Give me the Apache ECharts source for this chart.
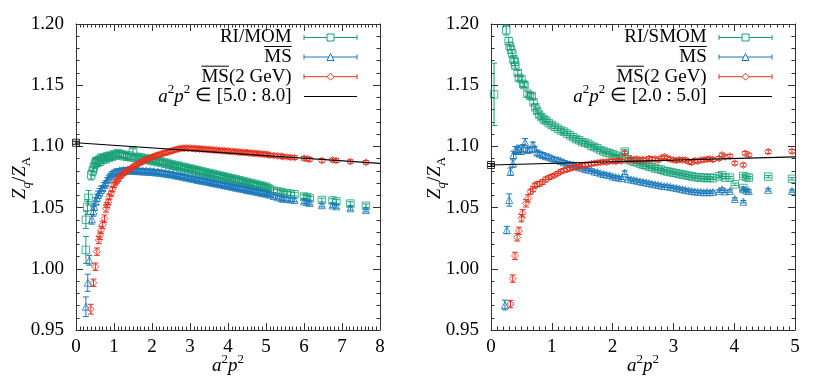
<!DOCTYPE html>
<html><head><meta charset="utf-8">
<script src="https://cdn.jsdelivr.net/npm/echarts@6/dist/echarts.min.js"></script>
<style>html,body{margin:0;padding:0;background:#fff}#c{width:830px;height:383px}</style>
</head><body><div id="c"></div>
<script>
// ---------- DATA: [a^2p^2, Z_q/Z_A, error] ----------
const L_MOM = [[0.26,1.0154,0.011],[0.26,1.040,0.007],[0.30,1.0505,0.006],[0.33,1.058,0.006],[0.40,1.0766,0.004],[0.44,1.080,0.004],[0.47,1.083,0.004],[0.50,1.086,0.004],[0.53,1.088,0.003],[0.56,1.0865,0.003],[0.60,1.089,0.003],[0.63,1.0875,0.003],[0.66,1.0905,0.003],[0.70,1.089,0.003],[0.74,1.091,0.002],[0.78,1.0895,0.002],[0.82,1.092,0.002],[0.86,1.0905,0.002],[0.90,1.0925,0.002],[0.95,1.0915,0.002],[1.00,1.0935,0.002],[1.05,1.0925,0.002],[1.10,1.0945,0.002],[1.15,1.093,0.002],[1.20,1.0935,0.002],[1.25,1.092,0.002],[1.30,1.093,0.002],[1.35,1.0915,0.002],[1.40,1.0925,0.002],[1.45,1.091,0.002],[1.50,1.0960,0.002],[1.55,1.0905,0.0015],[1.60,1.0915,0.0015],[1.65,1.090,0.0015],[1.70,1.091,0.0015],[1.75,1.0895,0.0015],[1.80,1.0905,0.0015],[1.85,1.089,0.0015],[1.90,1.0898,0.0015],[1.95,1.0885,0.0015],[2.00,1.0892,0.0015],[2.05,1.0878,0.0015],[2.10,1.0885,0.0015],[2.15,1.0872,0.0015],[2.20,1.0878,0.0015],[2.25,1.0865,0.0015],[2.30,1.0872,0.0015],[2.35,1.0858,0.0015],[2.40,1.0865,0.0015],[2.45,1.085,0.0015],[2.50,1.0856,0.0015],[2.55,1.0842,0.0015],[2.60,1.0848,0.0015],[2.65,1.0835,0.0015],[2.70,1.0842,0.0015],[2.75,1.0828,0.0015],[2.80,1.0834,0.0015],[2.85,1.082,0.0015],[2.90,1.0827,0.0015],[2.95,1.0813,0.0015],[3.00,1.082,0.0015],[3.05,1.0806,0.0015],[3.10,1.0812,0.0015],[3.15,1.0799,0.0015],[3.20,1.0805,0.0015],[3.25,1.0792,0.0015],[3.30,1.0798,0.0015],[3.35,1.0785,0.0015],[3.40,1.079,0.0015],[3.45,1.0777,0.0015],[3.50,1.0783,0.0015],[3.55,1.077,0.0015],[3.60,1.0776,0.0015],[3.65,1.0763,0.0015],[3.70,1.0768,0.0015],[3.75,1.0756,0.0015],[3.80,1.0761,0.0015],[3.85,1.0748,0.0015],[3.90,1.0754,0.0015],[3.95,1.0741,0.0015],[4.00,1.0746,0.0015],[4.05,1.0733,0.0015],[4.10,1.0739,0.0015],[4.15,1.0726,0.0015],[4.20,1.0731,0.0015],[4.25,1.0718,0.0015],[4.30,1.0724,0.0015],[4.35,1.0711,0.0015],[4.40,1.0716,0.0015],[4.45,1.0703,0.0015],[4.50,1.0709,0.0015],[4.55,1.0696,0.0015],[4.60,1.0701,0.0015],[4.65,1.0689,0.0015],[4.70,1.0694,0.0015],[4.75,1.0681,0.0015],[4.80,1.0686,0.0015],[4.85,1.0674,0.0015],[4.90,1.0679,0.0015],[4.95,1.0666,0.0015],[5.00,1.0671,0.0015],[5.05,1.0659,0.0015],[5.10,1.0652,0.0015],[5.20,1.0638,0.0015],[5.30,1.0632,0.0015],[5.40,1.0627,0.0015],[5.45,1.0620,0.0015],[5.55,1.0618,0.0015],[5.65,1.0612,0.0015],[5.75,1.0610,0.0015],[6.00,1.0590,0.0015],[6.08,1.0585,0.0015],[6.15,1.0575,0.0015],[6.47,1.0562,0.0015],[6.75,1.0558,0.0015],[6.85,1.0550,0.0015],[7.22,1.0533,0.0015],[7.63,1.0515,0.0015]];
const L_MS = [[0.26,0.969,0.008],[0.31,0.9886,0.007],[0.35,1.007,0.004],[0.42,1.0405,0.004],[0.46,1.047,0.004],[0.48,1.0507,0.003],[0.52,1.055,0.003],[0.55,1.058,0.003],[0.58,1.0605,0.003],[0.62,1.0625,0.003],[0.66,1.0645,0.003],[0.70,1.066,0.002],[0.74,1.0685,0.002],[0.78,1.070,0.002],[0.82,1.0725,0.002],[0.86,1.0745,0.002],[0.90,1.076,0.002],[0.95,1.0775,0.002],[1.00,1.0785,0.002],[1.05,1.0795,0.002],[1.10,1.079,0.0015],[1.15,1.0805,0.0015],[1.20,1.0798,0.0015],[1.25,1.081,0.0015],[1.30,1.080,0.0015],[1.35,1.0812,0.0015],[1.40,1.0802,0.0015],[1.45,1.081,0.0015],[1.50,1.080,0.0015],[1.55,1.0808,0.0015],[1.60,1.0798,0.0015],[1.65,1.0806,0.0015],[1.70,1.0796,0.0015],[1.75,1.0804,0.0015],[1.80,1.0794,0.0015],[1.85,1.0802,0.0015],[1.90,1.0792,0.0015],[1.95,1.080,0.0015],[2.00,1.079,0.0015],[2.05,1.0797,0.0015],[2.10,1.0787,0.0015],[2.15,1.0794,0.0015],[2.20,1.0784,0.0015],[2.25,1.079,0.0015],[2.30,1.078,0.0015],[2.35,1.0785,0.0015],[2.40,1.0775,0.0015],[2.45,1.078,0.0015],[2.50,1.077,0.0015],[2.55,1.0774,0.0015],[2.60,1.0764,0.0015],[2.65,1.0768,0.0015],[2.70,1.0758,0.0015],[2.75,1.0762,0.0015],[2.80,1.0752,0.0015],[2.85,1.0756,0.0015],[2.90,1.0745,0.0015],[2.95,1.0749,0.0015],[3.00,1.0739,0.0015],[3.05,1.0743,0.0015],[3.10,1.0733,0.0015],[3.15,1.0737,0.0015],[3.20,1.0726,0.0015],[3.25,1.073,0.0015],[3.30,1.072,0.0015],[3.35,1.0724,0.0015],[3.40,1.0714,0.0015],[3.45,1.0718,0.0015],[3.50,1.0708,0.0015],[3.55,1.0711,0.0015],[3.60,1.0701,0.0015],[3.65,1.0705,0.0015],[3.70,1.0695,0.0015],[3.75,1.0699,0.0015],[3.80,1.0689,0.0015],[3.85,1.0692,0.0015],[3.90,1.0682,0.0015],[3.95,1.0686,0.0015],[4.00,1.0676,0.0015],[4.05,1.068,0.0015],[4.10,1.067,0.0015],[4.15,1.0673,0.0015],[4.20,1.0663,0.0015],[4.25,1.0667,0.0015],[4.30,1.0657,0.0015],[4.35,1.0661,0.0015],[4.40,1.0651,0.0015],[4.45,1.0654,0.0015],[4.50,1.0644,0.0015],[4.55,1.0648,0.0015],[4.60,1.0638,0.0015],[4.65,1.0642,0.0015],[4.70,1.0632,0.0015],[4.75,1.0635,0.0015],[4.80,1.0625,0.0015],[4.85,1.0629,0.0015],[4.90,1.0619,0.0015],[4.95,1.0623,0.0015],[5.00,1.0613,0.0015],[5.05,1.0616,0.0015],[5.10,1.0605,0.0015],[5.20,1.0595,0.0015],[5.30,1.0585,0.0015],[5.40,1.0578,0.0015],[5.45,1.0572,0.0015],[5.55,1.0570,0.0015],[5.65,1.0566,0.0015],[5.75,1.0562,0.0015],[6.00,1.0550,0.0015],[6.08,1.0545,0.0015],[6.15,1.0538,0.0015],[6.47,1.0520,0.0015],[6.75,1.0518,0.0015],[6.85,1.0510,0.0015],[7.22,1.0494,0.0015],[7.63,1.0480,0.0015]];
const L_MS2 = [[0.39,0.967,0.004],[0.46,0.9886,0.003],[0.51,1.0017,0.003],[0.55,1.014,0.003],[0.60,1.0235,0.003],[0.63,1.027,0.003],[0.66,1.0317,0.003],[0.70,1.036,0.003],[0.75,1.041,0.003],[0.79,1.0493,0.003],[0.82,1.052,0.002],[0.85,1.0545,0.002],[0.88,1.059,0.002],[0.92,1.0615,0.002],[0.96,1.065,0.002],[1.00,1.0685,0.002],[1.04,1.0705,0.002],[1.08,1.072,0.002],[1.12,1.0735,0.002],[1.16,1.0752,0.0015],[1.20,1.0765,0.0015],[1.25,1.0778,0.0015],[1.30,1.079,0.0015],[1.35,1.080,0.0015],[1.40,1.081,0.0015],[1.45,1.0822,0.0015],[1.50,1.0832,0.0015],[1.55,1.0842,0.0015],[1.60,1.0851,0.0015],[1.65,1.086,0.0015],[1.70,1.0868,0.0015],[1.75,1.0876,0.0015],[1.80,1.0884,0.0015],[1.85,1.0892,0.0015],[1.90,1.0899,0.0015],[1.95,1.0906,0.0015],[2.00,1.0912,0.0015],[2.05,1.0918,0.0015],[2.10,1.0924,0.0015],[2.15,1.0929,0.0015],[2.20,1.0934,0.0015],[2.25,1.0939,0.0015],[2.30,1.0944,0.0015],[2.35,1.0948,0.0015],[2.40,1.0952,0.0015],[2.45,1.0956,0.0015],[2.50,1.0962,0.0015],[2.55,1.0965,0.0015],[2.60,1.0972,0.0015],[2.65,1.0974,0.0015],[2.70,1.098,0.0015],[2.75,1.0982,0.0015],[2.80,1.0986,0.0015],[2.85,1.0984,0.0015],[2.90,1.0988,0.0015],[2.95,1.0984,0.0015],[3.00,1.0987,0.0015],[3.05,1.0982,0.0015],[3.10,1.0985,0.0015],[3.15,1.098,0.0015],[3.20,1.0983,0.0015],[3.25,1.0978,0.0015],[3.30,1.0981,0.0015],[3.35,1.0976,0.0015],[3.40,1.0978,0.0015],[3.45,1.0973,0.0015],[3.50,1.0976,0.0015],[3.55,1.0971,0.0015],[3.60,1.0973,0.0015],[3.65,1.0968,0.0015],[3.70,1.0971,0.0015],[3.75,1.0966,0.0015],[3.80,1.0968,0.0015],[3.85,1.0963,0.0015],[3.90,1.0966,0.0015],[3.95,1.0961,0.0015],[4.00,1.0963,0.0015],[4.05,1.0958,0.0015],[4.10,1.0961,0.0015],[4.15,1.0956,0.0015],[4.20,1.0958,0.0015],[4.25,1.0953,0.0015],[4.30,1.0955,0.0015],[4.35,1.095,0.0015],[4.40,1.0953,0.0015],[4.45,1.0948,0.0015],[4.50,1.095,0.0015],[4.55,1.0945,0.0015],[4.60,1.0947,0.0015],[4.65,1.0942,0.0015],[4.70,1.0945,0.0015],[4.75,1.094,0.0015],[4.80,1.0942,0.0015],[4.85,1.0937,0.0015],[4.90,1.0939,0.0015],[4.95,1.0934,0.0015],[5.00,1.0937,0.0015],[5.05,1.0932,0.0015],[5.10,1.0928,0.0015],[5.20,1.0925,0.0015],[5.30,1.0922,0.0015],[5.40,1.092,0.0015],[5.45,1.0916,0.0015],[5.55,1.0914,0.0015],[5.65,1.091,0.0015],[5.75,1.0908,0.0015],[6.00,1.0903,0.0015],[6.08,1.0898,0.0015],[6.15,1.0894,0.0015],[6.47,1.0885,0.0015],[6.75,1.0889,0.0015],[6.85,1.0884,0.0015],[7.22,1.0876,0.0015],[7.63,1.087,0.0015]];
const L_FIT_LINE = [[0,1.103],[8,1.0862]];
const L_FIT_PT = [[0,1.103,0.0012]];

const R_SMOM = [[0.05,1.1425,0.0255],[0.25,1.195,0.004],[0.29,1.186,0.003],[0.31,1.182,0.003],[0.33,1.179,0.003],[0.35,1.176,0.003],[0.37,1.171,0.003],[0.39,1.169,0.003],[0.40,1.166,0.002],[0.44,1.160,0.002],[0.46,1.156,0.002],[0.50,1.155,0.002],[0.53,1.151,0.002],[0.55,1.150,0.002],[0.60,1.143,0.002],[0.64,1.1415,0.002],[0.67,1.141,0.002],[0.70,1.136,0.002],[0.73,1.132,0.002],[0.76,1.129,0.002],[0.79,1.126,0.002],[0.83,1.124,0.002],[0.87,1.122,0.002],[0.91,1.121,0.0015],[0.95,1.119,0.0015],[1.00,1.1175,0.0015],[1.05,1.116,0.0015],[1.10,1.1145,0.0015],[1.15,1.113,0.0015],[1.20,1.112,0.0015],[1.25,1.1105,0.0015],[1.30,1.109,0.0015],[1.35,1.1075,0.0015],[1.40,1.106,0.0015],[1.45,1.105,0.0015],[1.50,1.1035,0.0015],[1.55,1.103,0.001],[1.60,1.102,0.001],[1.65,1.1005,0.001],[1.70,1.0995,0.001],[1.75,1.0985,0.001],[1.80,1.097,0.001],[1.85,1.096,0.001],[1.90,1.095,0.001],[1.95,1.0945,0.001],[2.00,1.0935,0.001],[2.05,1.0925,0.001],[2.10,1.0915,0.001],[2.15,1.0905,0.001],[2.20,1.0957,0.0015],[2.25,1.0895,0.001],[2.30,1.0885,0.001],[2.35,1.0875,0.001],[2.40,1.087,0.001],[2.45,1.086,0.001],[2.50,1.085,0.001],[2.55,1.0845,0.001],[2.60,1.0835,0.001],[2.65,1.083,0.001],[2.70,1.082,0.001],[2.75,1.0815,0.001],[2.80,1.081,0.001],[2.85,1.080,0.001],[2.90,1.0795,0.001],[2.95,1.079,0.001],[3.00,1.0785,0.001],[3.05,1.078,0.001],[3.10,1.0775,0.001],[3.15,1.077,0.001],[3.20,1.0765,0.001],[3.25,1.076,0.001],[3.30,1.0755,0.001],[3.35,1.075,0.001],[3.40,1.0748,0.001],[3.45,1.0745,0.001],[3.50,1.0745,0.001],[3.55,1.074,0.001],[3.60,1.0745,0.001],[3.65,1.074,0.001],[3.75,1.0755,0.001],[3.80,1.0765,0.001],[3.85,1.0745,0.001],[3.93,1.0745,0.001],[4.01,1.0690,0.001],[4.15,1.0758,0.001],[4.15,1.0660,0.001],[4.20,1.0750,0.001],[4.24,1.0744,0.001],[4.56,1.0753,0.001],[4.95,1.0735,0.001]];
const R_MS = [[0.23,0.9704,0.004],[0.26,1.0317,0.003],[0.30,1.0562,0.005],[0.32,1.0793,0.003],[0.36,1.086,0.003],[0.37,1.093,0.003],[0.40,1.097,0.003],[0.43,1.0965,0.003],[0.46,1.098,0.003],[0.50,1.0965,0.003],[0.53,1.0985,0.003],[0.56,1.1035,0.003],[0.60,1.097,0.002],[0.64,1.0975,0.002],[0.69,1.1015,0.002],[0.72,1.098,0.002],[0.76,1.095,0.002],[0.80,1.094,0.002],[0.85,1.093,0.002],[0.90,1.092,0.002],[0.95,1.0915,0.0015],[1.00,1.0905,0.0015],[1.05,1.0895,0.0015],[1.10,1.089,0.0015],[1.15,1.088,0.0015],[1.20,1.087,0.0015],[1.25,1.086,0.0015],[1.30,1.0855,0.0015],[1.35,1.085,0.0015],[1.40,1.084,0.001],[1.45,1.083,0.001],[1.50,1.0825,0.001],[1.55,1.0815,0.001],[1.60,1.081,0.001],[1.65,1.0805,0.001],[1.70,1.0795,0.001],[1.75,1.079,0.001],[1.80,1.078,0.001],[1.85,1.0775,0.001],[1.90,1.077,0.001],[1.95,1.0765,0.001],[2.00,1.0755,0.001],[2.05,1.075,0.001],[2.10,1.0745,0.001],[2.15,1.074,0.001],[2.20,1.0785,0.0015],[2.25,1.0735,0.001],[2.30,1.073,0.001],[2.35,1.0725,0.001],[2.40,1.072,0.001],[2.45,1.0715,0.001],[2.50,1.071,0.001],[2.55,1.0705,0.001],[2.60,1.070,0.001],[2.65,1.0695,0.001],[2.70,1.069,0.001],[2.75,1.0685,0.001],[2.80,1.068,0.001],[2.85,1.0675,0.001],[2.90,1.0675,0.001],[2.95,1.067,0.001],[3.00,1.0665,0.001],[3.05,1.066,0.001],[3.10,1.0655,0.001],[3.15,1.065,0.001],[3.20,1.0645,0.001],[3.25,1.064,0.001],[3.30,1.0635,0.001],[3.35,1.0632,0.001],[3.40,1.063,0.001],[3.45,1.0628,0.001],[3.50,1.0625,0.001],[3.55,1.0628,0.001],[3.60,1.0625,0.001],[3.65,1.0628,0.001],[3.75,1.0635,0.001],[3.80,1.065,0.001],[3.85,1.0632,0.001],[3.93,1.0636,0.001],[4.01,1.0570,0.001],[4.15,1.0650,0.001],[4.15,1.0548,0.001],[4.20,1.0640,0.001],[4.24,1.0636,0.001],[4.56,1.0645,0.001],[4.95,1.0636,0.001]];
const R_MS2 = [[0.32,0.9712,0.003],[0.357,0.992,0.003],[0.395,1.0105,0.003],[0.43,1.0257,0.003],[0.46,1.031,0.003],[0.50,1.0413,0.003],[0.52,1.0453,0.003],[0.575,1.0535,0.003],[0.61,1.0576,0.003],[0.65,1.063,0.002],[0.69,1.065,0.002],[0.72,1.068,0.002],[0.76,1.069,0.002],[0.80,1.0695,0.002],[0.85,1.071,0.002],[0.90,1.073,0.002],[0.95,1.0745,0.0015],[1.00,1.0755,0.0015],[1.05,1.0766,0.0015],[1.10,1.078,0.0015],[1.15,1.0795,0.0015],[1.20,1.0805,0.0015],[1.25,1.081,0.0015],[1.30,1.082,0.0015],[1.35,1.0825,0.0015],[1.40,1.083,0.0015],[1.45,1.0838,0.0015],[1.50,1.0845,0.0015],[1.55,1.0848,0.0015],[1.60,1.0852,0.0015],[1.65,1.0858,0.0015],[1.70,1.0862,0.0015],[1.75,1.0866,0.0015],[1.80,1.087,0.0015],[1.85,1.0874,0.0015],[1.90,1.0872,0.0015],[1.95,1.0878,0.0015],[2.00,1.088,0.0015],[2.05,1.0876,0.0015],[2.10,1.0885,0.0015],[2.15,1.088,0.0015],[2.20,1.0945,0.0015],[2.25,1.0888,0.0015],[2.30,1.0895,0.0015],[2.35,1.0885,0.0015],[2.40,1.0898,0.0015],[2.45,1.089,0.0015],[2.50,1.0892,0.0015],[2.55,1.0888,0.0015],[2.60,1.0902,0.0015],[2.65,1.0895,0.0015],[2.70,1.0898,0.0015],[2.75,1.0888,0.0015],[2.80,1.0905,0.0015],[2.85,1.0915,0.0015],[2.90,1.0905,0.0015],[2.95,1.0895,0.0015],[3.00,1.0890,0.0015],[3.05,1.0885,0.0015],[3.10,1.0892,0.0015],[3.15,1.0888,0.0015],[3.20,1.089,0.0015],[3.25,1.0875,0.0015],[3.30,1.0868,0.0015],[3.35,1.0885,0.0015],[3.40,1.0878,0.0015],[3.45,1.0888,0.0015],[3.50,1.089,0.0015],[3.55,1.0895,0.0015],[3.60,1.0898,0.0015],[3.65,1.0892,0.0015],[3.75,1.0902,0.0015],[3.80,1.093,0.0015],[3.85,1.0915,0.0015],[3.93,1.0920,0.0015],[4.01,1.0863,0.0015],[4.15,1.0848,0.0015],[4.18,1.0944,0.0015],[4.24,1.0930,0.0015],[4.56,1.0957,0.0015],[4.95,1.0960,0.0015]];
const R_FIT_LINE = [[0,1.0848],[5,1.0915]];
const R_FIT_PT = [[0,1.0848,0.0012]];

const Y_MIN = 0.95, Y_MAX = 1.20, Y_STEP = 0.05;
const L_XMAX = 8, R_XMAX = 5, X_STEP = 1;
const L_LABELS = ['RI/MOM', 'MS', 'MS(2 GeV)', ' ∈ [5.0 : 8.0]'];
const R_LABELS = ['RI/SMOM', 'MS', 'MS(2 GeV)', ' ∈ [2.0 : 5.0]'];

// ---------- STYLE ----------
const FONT = 'Liberation Serif';
const FS = 19;
const C_G = '#17a075', C_B = '#1a78ba', C_R = '#e5321f', AX = '#333';
const GRIDS = [{left:76, top:24, width:304, height:306}, {left:491, top:24, width:304, height:306}];
const TICK_RICH = {t:{fontFamily:FONT, fontSize:FS, color:'#000', fontWeight:'normal', fontStyle:'normal'}};

function xAxes(gi, xmax){
  const base = {gridIndex:gi, type:'value', min:0, max:xmax, interval:X_STEP,
    axisLine:{show:true, onZero:false, lineStyle:{color:AX, width:1}},
    axisTick:{show:true, inside:true, length:7, lineStyle:{color:AX}},
    minorTick:{show:true, splitNumber:10, length:3.5, lineStyle:{color:AX}},
    splitLine:{show:false}, minorSplitLine:{show:false}};
  return [Object.assign({}, base, {position:'bottom', axisLabel:{show:true, margin:8, fontFamily:FONT, fontSize:FS, color:'#000', rich:TICK_RICH,
            formatter:function(v){return '{t|' + v + '}';}}}),
          Object.assign({}, base, {position:'top', axisLabel:{show:false}})];
}
function yAxes(gi){
  const base = {gridIndex:gi, type:'value', min:Y_MIN, max:Y_MAX, interval:Y_STEP,
    axisLine:{show:true, onZero:false, lineStyle:{color:AX, width:1}},
    axisTick:{show:true, inside:true, length:7, lineStyle:{color:AX}},
    minorTick:{show:true, splitNumber:5, length:3.5, lineStyle:{color:AX}},
    splitLine:{show:false}, minorSplitLine:{show:false}};
  return [Object.assign({}, base, {position:'left', axisLabel:{show:true, margin:12, fontFamily:FONT, fontSize:FS, color:'#000', rich:TICK_RICH,
            formatter:function(v){return '{t|' + v.toFixed(2) + '}';}}}),
          Object.assign({}, base, {position:'right', axisLabel:{show:false}})];
}

function errSeries(data, color, ai, z){
  return {type:'custom', xAxisIndex:ai, yAxisIndex:ai, data:data, encode:{x:0, y:1}, z:z, silent:true, clip:false,
    renderItem:function(params, api){
      const x = api.value(0), y = api.value(1), e = api.value(2);
      const lo = api.coord([x, y - e]), hi = api.coord([x, y + e]);
      const w = 3, st = {stroke:color, lineWidth:1};
      return {type:'group', children:[
        {type:'line', shape:{x1:lo[0], y1:lo[1], x2:hi[0], y2:hi[1]}, style:st},
        {type:'line', shape:{x1:lo[0]-w, y1:lo[1], x2:lo[0]+w, y2:lo[1]}, style:st},
        {type:'line', shape:{x1:hi[0]-w, y1:hi[1], x2:hi[0]+w, y2:hi[1]}, style:st}]};
    }};
}
function ptSeries(data, color, ai, symbol, size, z){
  return {type:'scatter', xAxisIndex:ai, yAxisIndex:ai, data:data, encode:{x:0, y:1}, symbol:symbol, symbolSize:size, z:z, silent:true, clip:false,
    itemStyle:{color:'rgba(255,255,255,0)', borderColor:color, borderWidth:1}};
}
function fitSeries(line, pt, ai){
  return [
    {type:'line', xAxisIndex:ai, yAxisIndex:ai, data:line, showSymbol:false, silent:true, z:10, lineStyle:{color:'#000', width:1.2}},
    errSeries(pt, '#000', ai, 11),
    ptSeries(pt, '#000', ai, 'rect', 7, 12)
  ];
}

const series = [];
[[L_MOM, L_MS, L_MS2, L_FIT_LINE, L_FIT_PT, 0], [R_SMOM, R_MS, R_MS2, R_FIT_LINE, R_FIT_PT, 2]].forEach(function(p){
  const ai = p[5];
  series.push(errSeries(p[0], C_G, ai, 2), ptSeries(p[0], C_G, ai, 'rect', 7.5, 3));
  series.push(errSeries(p[1], C_B, ai, 4), ptSeries(p[1], C_B, ai, 'triangle', 7, 5));
  series.push(errSeries(p[2], C_R, ai, 6), ptSeries(p[2], C_R, ai, 'diamond', 7, 7));
  series.push.apply(series, fitSeries(p[3], p[4], ai));
});

// ---------- TEXT / LEGEND ----------
const RICH = {
  i:{fontFamily:FONT, fontSize:FS, fontStyle:'italic', lineHeight:26, fill:'#000'},
  n:{fontFamily:FONT, fontSize:FS, lineHeight:26, fill:'#000'},
  sup:{fontFamily:FONT, fontSize:13, lineHeight:13, verticalAlign:'top', fill:'#000'},
  sub:{fontFamily:FONT, fontSize:13, lineHeight:13, verticalAlign:'bottom', fill:'#000'},
  subi:{fontFamily:FONT, fontSize:13, fontStyle:'italic', lineHeight:13, verticalAlign:'bottom', fill:'#000'}
};
const ctx = document.createElement('canvas').getContext('2d');
ctx.font = FS + 'px ' + FONT;
const tw = function(s){ return ctx.measureText(s).width; };

function txt(x, y, text, align, extra){
  return Object.assign({type:'text', x:x, y:y, silent:true, z:100,
    style:{text:text, rich:RICH, align:align, verticalAlign:'middle', fontFamily:FONT, fontSize:FS, fill:'#000'}}, extra || {});
}
function hline(x1, x2, y, color, w){
  return {type:'line', silent:true, z:100, shape:{x1:x1, y1:y, x2:x2, y2:y}, style:{stroke:color, lineWidth:w || 1}};
}
function vline(x, y1, y2, color){
  return {type:'line', silent:true, z:100, shape:{x1:x, y1:y1, x2:x, y2:y2}, style:{stroke:color, lineWidth:1}};
}
function sym(kind, cx, cy, color){
  const s = 3.5;
  let shape;
  if (kind === 'rect') return {type:'rect', silent:true, z:101, shape:{x:cx-s, y:cy-s, width:2*s, height:2*s}, style:{fill:'#fff', stroke:color, lineWidth:1}};
  if (kind === 'triangle') shape = {points:[[cx, cy-s], [cx+s, cy+s], [cx-s, cy+s]]};
  else shape = {points:[[cx, cy-s], [cx+s, cy], [cx, cy+s], [cx-s, cy]]};
  return {type:'polygon', silent:true, z:101, shape:shape, style:{fill:'#fff', stroke:color, lineWidth:1}};
}

const graphics = [];
function panelText(pi, labels){
  const g = GRIDS[pi];
  const xr = g.left + 215.7, ls = g.left + 228, le = g.left + 281, xm = g.left + 254.5;
  const ys = [37.5, 57, 76.7, 96.5];
  const cols = [C_G, C_B, C_R];
  const kinds = ['rect', 'triangle', 'diamond'];
  graphics.push(txt(xr, ys[0], labels[0], 'right'));
  graphics.push(txt(xr, ys[1], labels[1], 'right'));
  graphics.push(txt(xr, ys[2], labels[2], 'right'));
  graphics.push(txt(xr, ys[3], '{i|a}{sup|2}{i|p}{sup|2}{n|' + labels[3] + '}', 'right'));
  const w1 = tw(labels[1]);
  graphics.push(hline(xr - w1, xr, ys[1] - 10.5, '#000', 1));
  const w2 = tw(labels[2]), wms = tw('MS');
  graphics.push(hline(xr - w2, xr - w2 + wms, ys[2] - 10.5, '#000', 1));
  for (let k = 0; k < 3; k++) {
    graphics.push(hline(ls, le, ys[k], cols[k], 1));
    graphics.push(vline(ls, ys[k]-2.5, ys[k]+2.5, cols[k]));
    graphics.push(vline(le, ys[k]-2.5, ys[k]+2.5, cols[k]));
    graphics.push(sym(kinds[k], xm, ys[k], cols[k]));
  }
  graphics.push(hline(ls, le, ys[3], '#000', 1.2));
  graphics.push(txt(g.left + g.width/2, 366, '{i|a}{sup|2}{i|p}{sup|2}', 'center'));
  graphics.push(txt(g.left - 56, 178, '{i|Z}{subi|q}{n|/}{i|Z}{sub|A}', 'center', {rotation: Math.PI/2}));
}
panelText(0, L_LABELS);
panelText(1, R_LABELS);

const chart = echarts.init(document.getElementById('c'), null, {renderer:'canvas'});
chart.setOption({
  animation:false,
  backgroundColor:'#fff',
  textStyle:{fontFamily:FONT, fontSize:FS, color:'#000'},
  grid:GRIDS,
  xAxis:[].concat(xAxes(0, L_XMAX), xAxes(1, R_XMAX)),
  yAxis:[].concat(yAxes(0), yAxes(1)),
  series:series,
  graphic:{elements:graphics}
});
</script></body></html>
